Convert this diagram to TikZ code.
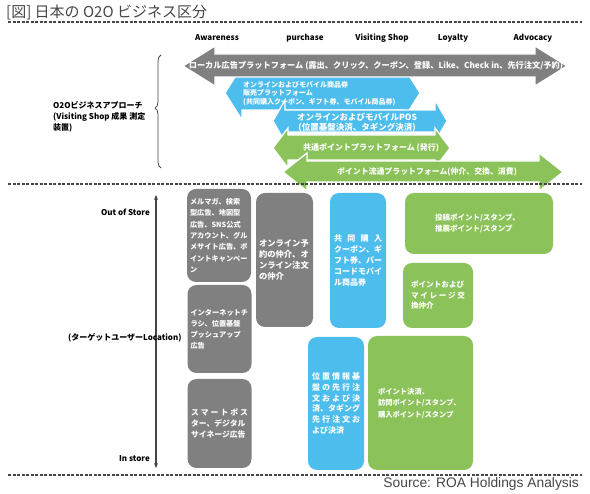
\documentclass[tikz,border=0pt]{standalone}
\usepackage{fontspec}
\setmainfont{Noto Sans CJK JP}
\newfontfamily\srcfont{Liberation Sans}
\usetikzlibrary{arrows.meta,decorations.pathreplacing}
\definecolor{oogray}{RGB}{128,128,128}
\definecolor{ooblue}{RGB}{77,189,238}
\definecolor{oogreen}{RGB}{139,195,90}
\definecolor{ooline}{RGB}{70,70,70}
\tikzset{
  arrowshape/.style={draw=white, line width=1.3pt, line join=miter},
  boxshape/.style={rounded corners=9pt, inner sep=0pt, text=white, align=left},
  collabel/.style={font=\bfseries\fontsize{8}{10}\selectfont, text=black, inner sep=0pt},
  sidelabel/.style={font=\bfseries\fontsize{8}{11}\selectfont, text=black, inner sep=0pt},
  arrowtext/.style={text=white, inner sep=0pt},
  sepline/.style={draw=ooline, line width=1.1pt, dash pattern=on 3pt off 1.5pt},
}
\begin{document}
\begin{tikzpicture}[x=1pt,y=-1pt]
\useasboundingbox (0,0) rectangle (590,494);

% title
\node[anchor=west, inner sep=0pt, text=ooline, font=\fontsize{15}{17}\selectfont] (title) at (6,12) {[図] 日本の O2O ビジネス区分};
\coordinate (s1a) at (8,22); \coordinate (s1b) at (582,22);
\draw[sepline] (s1a) -- (s1b);

% column labels
\node[collabel] (c1) at (217,38) {Awareness};
\node[collabel] (c2) at (305,38) {purchase};
\node[collabel] (c3) at (382,38) {Visiting Shop};
\node[collabel] (c4) at (453,38) {Loyalty};
\node[collabel] (c5) at (533,38) {Advocacy};

% platform arrows
\fill[ooblue, arrowshape] (225,93) -- (242,66) -- (242,76) -- (403,76) -- (403,66) -- (420,93) -- (403,120) -- (403,110) -- (242,110) -- (242,120) -- cycle;
\fill[oogray, arrowshape] (183,66) -- (215,46) -- (215,54) -- (535,54) -- (535,46) -- (567,66) -- (535,86) -- (535,77) -- (215,77) -- (215,86) -- cycle;
\fill[ooblue, arrowshape] (273,121) -- (285,100) -- (285,110) -- (435,110) -- (435,100) -- (447,121) -- (435,142) -- (435,132) -- (285,132) -- (285,142) -- cycle;
\fill[oogreen, arrowshape] (273,148) -- (288,128) -- (288,135) -- (435,135) -- (435,128) -- (450,148) -- (435,168) -- (435,160) -- (288,160) -- (288,168) -- cycle;
\fill[oogreen, arrowshape] (283,172) -- (307,153) -- (307,161) -- (539,161) -- (539,153) -- (563,172) -- (539,191) -- (539,182) -- (307,182) -- (307,191) -- cycle;

\node[arrowtext, font=\bfseries\fontsize{8.2}{10}\selectfont] (a1) at (376,66) {ローカル広告プラットフォーム (露出、クリック、クーポン、登録、Like、Check in、先行注文/予約)};
\node[arrowtext, anchor=west, align=left, font=\bfseries\fontsize{7}{8.5}\selectfont] (a2) at (243,93.5) {オンラインおよびモバイル商品券\\販売プラットフォーム\\(共同購入クーポン、ギフト券、モバイル商品券)};
\node[arrowtext, align=center, font=\bfseries\fontsize{8.5}{10}\selectfont] (a3) at (357,122.5) {オンラインおよびモバイルPOS\\(位置基盤決済、タギング決済)};
\node[arrowtext, font=\bfseries\fontsize{8}{10}\selectfont] (a4) at (371,148) {共通ポイントプラットフォーム (発行)};
\node[arrowtext, font=\bfseries\fontsize{7.9}{10}\selectfont] (a5) at (427,172) {ポイント流通プラットフォーム(仲介、交換、消費)};

% brace and left label
\coordinate (brb) at (161,168); \coordinate (brt) at (161,55);
\draw[ooline, line width=0.8pt, decorate, decoration={brace, amplitude=6pt, aspect=0.53}] (brb) -- (brt);
\node[sidelabel, anchor=west, align=left] (o2o) at (53,117) {O2Oビジネスアプローチ\\(Visiting Shop 成果 測定\\装置)};

% middle separator
\coordinate (s2a) at (8,184); \coordinate (s2b) at (582,184);
\draw[sepline] (s2a) -- (s2b);

% location axis
\coordinate (axt) at (156,195); \coordinate (axb) at (156,468);
\draw[ooline, line width=1.1pt, {Stealth[length=5pt,width=4pt]}-{Stealth[length=5pt,width=4pt]}] (axt) -- (axb);
\node[sidelabel, anchor=east] (out) at (150,212) {Out of Store};
\node[sidelabel, anchor=east] (in) at (150,459) {In store};
\node[sidelabel, anchor=west] (loc) at (68,338) {(ターゲットユーザーLocation)};

% boxes
\node[boxshape, fill=oogray, minimum width=64pt, minimum height=93pt, text width=58pt, font=\bfseries\fontsize{7.2}{11.3}\selectfont] (g1) at (219,235.5)
 {メルマガ、検索\\型広告、地図型\\広告、SNS公式\\アカウント、グル\\メサイト広告、ポ\\イントキャンペー\\ン};
\node[boxshape, fill=oogray, minimum width=57pt, minimum height=134pt, text width=51pt, font=\bfseries\fontsize{8.3}{11.3}\selectfont] (g2) at (284.5,260)
 {オンライン予\\約の仲介、オ\\ンライン注文\\の仲介};
\node[boxshape, fill=oogray, minimum width=64pt, minimum height=88pt, text width=58pt, font=\bfseries\fontsize{7.2}{11}\selectfont] (g3) at (219.5,329)
 {インターネットチ\\ラシ、位置基盤\\プッシュアップ\\広告};
\node[boxshape, fill=oogray, minimum width=64pt, minimum height=89pt, text width=57pt, font=\bfseries\fontsize{7.8}{11}\selectfont] (g4) at (219.5,423.5)
 {ス\hfill マ\hfill ー\hfill ト\hfill ポ\hfill ス\\ター、デジタル\\サイネージ広告};
\node[boxshape, fill=ooblue, minimum width=56pt, minimum height=135pt, text width=48pt, font=\bfseries\fontsize{8}{11}\selectfont] (b1) at (358,260.5)
 {共\hfill 同\hfill 購\hfill 入\\ク\hfill ー\hfill ポ\hfill ン\hfill 、\hfill ギ\\フ\hfill ト\hfill 券\hfill 、\hfill バ\hfill ー\\コ\hfill ー\hfill ド\hfill モ\hfill バ\hfill イ\\ル商品券};
\node[boxshape, fill=ooblue, minimum width=56pt, minimum height=133pt, text width=48pt, font=\bfseries\fontsize{8}{10.8}\selectfont] (b2) at (336,403.5)
 {位\hfill 置\hfill 情\hfill 報\hfill 基\\盤\hfill の\hfill 先\hfill 行\hfill 注\\文\hfill お\hfill よ\hfill び\hfill 決\\済\hfill 、\hfill タ\hfill ギ\hfill ン\hfill グ\\先\hfill 行\hfill 注\hfill 文\hfill お\\よび決済};
\node[boxshape, fill=oogreen, minimum width=148pt, minimum height=61pt, text width=88pt, font=\bfseries\fontsize{7.5}{10.5}\selectfont] (gr1) at (479,223.5)
 {投稿ポイント/スタンプ、\\推薦ポイント/スタンプ};
\node[boxshape, fill=oogreen, minimum width=70pt, minimum height=65pt, text width=54pt, font=\bfseries\fontsize{7.6}{10.5}\selectfont] (gr2) at (438,295.5)
 {ポイントおよび\\マ\hfill イ\hfill レ\hfill ー\hfill ジ\hfill 交\\換仲介};
\node[boxshape, fill=oogreen, minimum width=105pt, minimum height=134pt, text width=85pt, font=\bfseries\fontsize{7.3}{11.5}\selectfont] (gr3) at (420.5,403)
 {ポイント決済、\\訪問ポイント/スタンプ、\\購入ポイント/スタンプ};

% bottom separator and source
\coordinate (s3a) at (8,475); \coordinate (s3b) at (582,475);
\draw[sepline] (s3a) -- (s3b);
\node[anchor=east, inner sep=0pt, text=ooline, font=\srcfont\fontsize{13.8}{15}\selectfont] (src) at (579,484) {Source: ROA Holdings Analysis};
\end{tikzpicture}
\end{document}
